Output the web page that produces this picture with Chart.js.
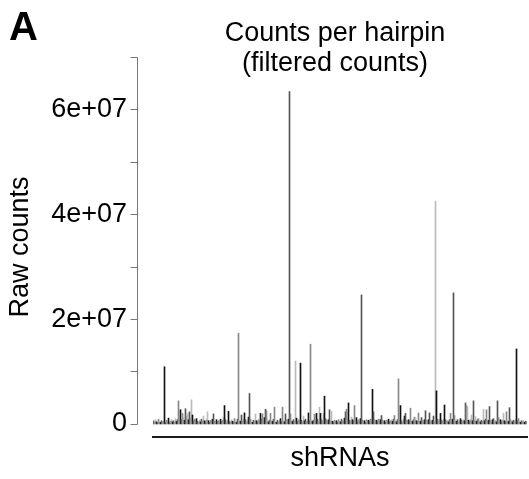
<!DOCTYPE html>
<html>
<head>
<meta charset="utf-8">
<script src="https://cdn.jsdelivr.net/npm/chart.js@4.4.1/dist/chart.umd.min.js"></script>
<style>
  html, body { margin: 0; padding: 0; background: #fff; }
  #wrap { width: 529px; height: 479px; }
</style>
</head>
<body>
<div id="wrap"><canvas id="chart" width="529" height="479"></canvas></div>
<script>
// raw counts per hairpin, in millions, left to right
const counts = [
  0.6, 0.3, 0.8, 0.4, 0.3, 0.9, 0.5, 0.3, 0.6, 0.4, 0.5, 10.9, 0.3, 0.7, 0.4, 1.1, 0.3, 0.5, 0.8, 0.4,
  0.6, 0.3, 1.0, 0.5, 0.8, 4.4, 0.6, 2.7, 0.9, 2.0, 1.2, 0.7, 2.9, 1.4, 2.0, 0.8, 2.3, 1.1, 4.6, 1.7,
  0.6, 0.9, 0.4, 1.0, 0.5, 0.3, 0.7, 0.4, 0.9, 0.5, 1.5, 0.6, 0.4, 0.8, 2.3, 0.6, 0.3, 0.7, 0.5, 0.9,
  1.9, 0.5, 0.3, 0.8, 0.4, 0.6, 0.3, 0.9, 0.5, 0.7, 1.2, 3.5, 0.8, 0.4, 0.6, 2.4, 0.5, 0.3, 0.8, 0.5,
  0.4, 1.0, 0.6, 0.3, 0.9, 17.3, 0.7, 0.5, 1.7, 0.6, 0.9, 2.1, 0.8, 0.4, 0.6, 1.3, 5.8, 0.9, 0.5, 0.3,
  0.7, 0.5, 1.9, 0.6, 0.4, 0.8, 0.5, 2.0, 0.9, 1.9, 0.6, 1.2, 2.8, 2.5, 0.8, 0.4, 0.7, 2.0, 0.6, 0.5,
  0.9, 3.2, 0.5, 0.3, 0.7, 0.4, 0.6, 1.0, 0.5, 3.2, 0.7, 0.4, 1.9, 0.8, 0.6, 0.9, 63.4, 1.9, 0.7, 0.5,
  0.8, 0.6, 12.0, 1.1, 0.5, 0.8, 0.6, 11.6, 0.7, 0.4, 1.5, 0.6, 0.9, 0.5, 0.7, 2.1, 0.6, 15.2, 0.8, 0.5,
  0.7, 1.8, 0.6, 2.0, 0.9, 0.5, 3.2, 2.0, 0.8, 0.6, 2.0, 5.3, 1.0, 0.7, 0.4, 0.8, 2.7, 0.6, 2.4, 0.5,
  0.3, 0.7, 0.4, 0.6, 0.3, 0.8, 0.5, 0.4, 0.9, 0.6, 0.5, 1.1, 2.3, 2.8, 0.8, 4.0, 0.7, 0.5, 1.3, 0.8,
  0.6, 3.5, 0.7, 1.2, 0.5, 0.8, 0.6, 1.0, 24.6, 0.7, 0.4, 0.6, 0.3, 0.8, 0.5, 0.7, 0.4, 0.9, 0.6, 6.6,
  2.3, 0.8, 0.5, 0.7, 0.4, 0.9, 0.6, 0.8, 1.6, 0.7, 0.4, 0.6, 0.3, 0.7, 0.5, 0.9, 0.4, 0.6, 0.8, 0.5,
  0.9, 1.6, 0.6, 0.4, 0.8, 8.6, 0.7, 3.5, 0.6, 0.4, 0.9, 1.5, 2.0, 0.7, 0.5, 0.8, 0.6, 3.0, 0.7, 0.5,
  0.8, 1.3, 1.2, 0.6, 0.4, 2.1, 0.7, 0.5, 1.2, 0.6, 0.4, 0.8, 2.5, 0.7, 0.5, 0.8, 2.1, 0.6, 0.4, 0.7,
  1.5, 0.5, 42.5, 6.3, 0.9, 0.6, 0.8, 2.0, 0.7, 0.5, 0.9, 3.6, 0.8, 0.5, 0.7, 0.4, 0.8, 2.0, 0.6, 0.9,
  25.0, 1.6, 0.7, 0.5, 0.8, 0.4, 0.6, 1.0, 0.7, 0.5, 0.8, 0.6, 4.0, 3.5, 3.2, 0.7, 0.5, 0.8, 1.7, 0.6,
  4.4, 0.7, 1.4, 0.5, 0.8, 1.0, 0.6, 0.4, 0.7, 0.5, 2.8, 0.6, 0.9, 2.7, 0.5, 0.7, 3.3, 0.6, 0.4, 0.8,
  1.0, 0.5, 0.7, 0.4, 4.4, 1.2, 0.6, 0.8, 0.5, 0.7, 2.0, 0.6, 0.4, 2.3, 0.7, 0.5, 3.1, 0.8, 0.6, 0.4,
  0.7, 0.5, 0.8, 14.3, 0.6, 1.0, 0.5, 0.3, 0.6, 0.4, 0.7, 0.3, 0.5, 0.4
];
const hairpins = counts.map((_, i) => 'shRNA ' + (i + 1));

const yLabelTicks = [0, 20, 40, 60];          // millions
const yAxisTicks = [0, 10, 20, 30, 40, 50, 60, 70];
const yMin = -2.5, yMax = 70;

const titleLines = ['Counts per hairpin', '(filtered counts)'];
const panelLetter = 'A';
const FONT = '"Liberation Sans", Arial, Helvetica, sans-serif';

const barShades = ['#555555', '#888888', '#bbbbbb', '#111111'];

// R style left axis (drawn off the plot edge) + title + panel letter
const decor = {
  id: 'decor',
  afterDraw(chart) {
    const ctx = chart.ctx;
    const y = chart.scales.y;
    const area = chart.chartArea;
    const ax = area.left - 15.5;
    ctx.save();
    ctx.strokeStyle = '#777';
    ctx.lineWidth = 1;
    ctx.beginPath();
    ctx.moveTo(ax, Math.round(y.getPixelForValue(0)) + 0.5);
    ctx.lineTo(ax, Math.round(y.getPixelForValue(yMax)) + 0.5);
    yAxisTicks.forEach(v => {
      const py = Math.round(y.getPixelForValue(v)) + 0.5;
      ctx.moveTo(ax, py);
      ctx.lineTo(ax - 7, py);
    });
    ctx.stroke();

    ctx.fillStyle = '#000';
    ctx.textAlign = 'center';
    ctx.textBaseline = 'alphabetic';
    ctx.font = '27px ' + FONT;
    const cx = (area.left + area.right) / 2 - 5;
    ctx.fillText(titleLines[0], cx, 41);
    ctx.fillText(titleLines[1], cx, 71);

    ctx.textAlign = 'left';
    ctx.font = 'bold 40px ' + FONT;
    ctx.fillText(panelLetter, 9, 40);
    ctx.restore();
  }
};

new Chart(document.getElementById('chart'), {
  type: 'bar',
  data: {
    labels: hairpins,
    datasets: [{
      data: counts,
      backgroundColor: ctx => barShades[ctx.dataIndex % barShades.length],
      borderWidth: 0,
      categoryPercentage: 1,
      barPercentage: 1
    }]
  },
  options: {
    responsive: false,
    animation: false,
    devicePixelRatio: 1,
    layout: { padding: { top: 57, right: 2, left: 0, bottom: 0 } },
    plugins: {
      legend: { display: false },
      tooltip: { enabled: false }
    },
    scales: {
      x: {
        type: 'category',
        ticks: { display: false },
        grid: { display: false },
        border: { display: true, color: '#1a1a1a', width: 2 },
        title: {
          display: true,
          text: 'shRNAs',
          color: '#000',
          font: { family: FONT, size: 27 },
          padding: { top: 4, bottom: 4 }
        },
        afterFit: s => { s.height = 42; }
      },
      y: {
        min: yMin,
        max: yMax,
        grid: { display: false },
        border: { display: false },
        afterBuildTicks: s => { s.ticks = yLabelTicks.map(v => ({ value: v })); },
        ticks: {
          color: '#000',
          padding: 18,
          font: { family: FONT, size: 27 },
          callback: v => v === 0 ? '0' : (v / 10) + 'e+07'
        },
        title: {
          display: true,
          text: 'Raw counts',
          color: '#000',
          font: { family: FONT, size: 27 },
          padding: { top: 4, bottom: 4 }
        },
        afterFit: s => { s.width = 153; }
      }
    }
  },
  plugins: [decor]
});
</script>
</body>
</html>
